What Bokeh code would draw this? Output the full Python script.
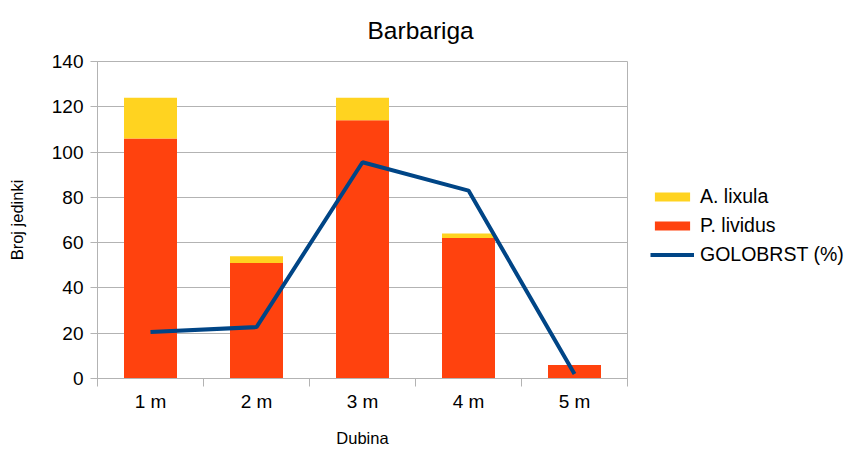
from bokeh.plotting import figure
from bokeh.models import (ColumnDataSource, Range1d, FixedTicker, Legend,
                          LegendItem, Title)
from bokeh.embed import file_html
from bokeh.resources import INLINE

# ---- data ----
categories = ["1 m", "2 m", "3 m", "4 m", "5 m"]
p_lividus = [106, 51, 114, 62, 6]
a_lixula = [18, 3, 10, 2, 0]
golobrst = [20.5, 22.7, 95.5, 83, 2]
y_ticks = [0, 20, 40, 60, 80, 100, 120, 140]

ORANGE = "#ff420e"
YELLOW = "#ffd320"
BLUE = "#004586"
GRID = "#b3b3b3"
FONT = "Liberation Sans"
TICK_FS = "19px"
LEGEND_FS = "19.5px"
AXIS_FS = "16.5px"

n = len(categories)
centers = [i + 0.5 for i in range(n)]
bounds = list(range(n + 1))

source = ColumnDataSource(dict(x=centers, cat=categories, p=p_lividus,
                               a=a_lixula, g=golobrst))

p = figure(frame_width=530, frame_height=317, output_backend="svg",
           toolbar_location=None,
           x_range=Range1d(0, n), y_range=Range1d(0, 140),
           min_border_left=97, min_border_right=0,
           min_border_top=61, min_border_bottom=72)

p.title = Title(text="Barbariga", align="left", offset=270,
                vertical_align="top",
                text_font_size="24.5px", text_font=FONT,
                text_font_style="normal", text_color="#000000", standoff=31)

bars = p.vbar_stack(["p", "a"], x="x", width=0.5, color=[ORANGE, YELLOW],
                    line_color=None, source=source)
ln = p.line("x", "g", source=source, color=BLUE, line_width=4)

# grid & outline
p.xgrid.grid_line_color = None
p.ygrid.grid_line_color = GRID
p.ygrid.ticker = FixedTicker(ticks=y_ticks)
p.outline_line_color = GRID

# y axis
ya = p.yaxis[0]
ya.ticker = FixedTicker(ticks=y_ticks)
ya.axis_line_color = GRID
ya.major_tick_line_color = GRID
ya.major_tick_in = 0
ya.major_tick_out = 7
ya.minor_tick_line_color = None
ya.major_label_standoff = 7
ya.major_label_text_font = FONT
ya.major_label_text_font_size = TICK_FS
ya.major_label_text_color = "#000000"
ya.axis_label = "Broj jedinki"
ya.axis_label_text_font = FONT
ya.axis_label_text_font_size = AXIS_FS
ya.axis_label_text_font_style = "normal"
ya.axis_label_text_color = "#000000"
ya.axis_label_standoff = 23

# x axis: labels at category centres, tick marks at category boundaries
xa = p.xaxis[0]
xa.ticker = FixedTicker(ticks=centers, minor_ticks=bounds)
xa.major_label_overrides = {c: lab for c, lab in zip(centers, categories)}
xa.axis_line_color = GRID
xa.major_tick_line_color = None
xa.major_tick_out = 8
xa.major_tick_in = 0
xa.minor_tick_line_color = GRID
xa.minor_tick_out = 8
xa.minor_tick_in = 0
xa.major_label_standoff = 4
xa.major_label_text_font = FONT
xa.major_label_text_font_size = TICK_FS
xa.major_label_text_color = "#000000"
xa.axis_label = "Dubina"
xa.axis_label_text_font = FONT
xa.axis_label_text_font_size = AXIS_FS
xa.axis_label_text_font_style = "normal"
xa.axis_label_text_color = "#000000"
xa.axis_label_standoff = 14

legend = Legend(items=[LegendItem(label="A. lixula", renderers=[bars[1]]),
                       LegendItem(label="P. lividus", renderers=[bars[0]]),
                       LegendItem(label="GOLOBRST (%)", renderers=[ln])],
                location=(23, 112), padding=0, margin=0,
                border_line_color=None, background_fill_alpha=0,
                glyph_width=44, glyph_height=11, label_height=22,
                spacing=6, label_standoff=6,
                label_text_font=FONT, label_text_font_size=LEGEND_FS,
                label_text_color="#000000")
p.add_layout(legend, "right")

open("out.html", "w").write(file_html(p, INLINE))
